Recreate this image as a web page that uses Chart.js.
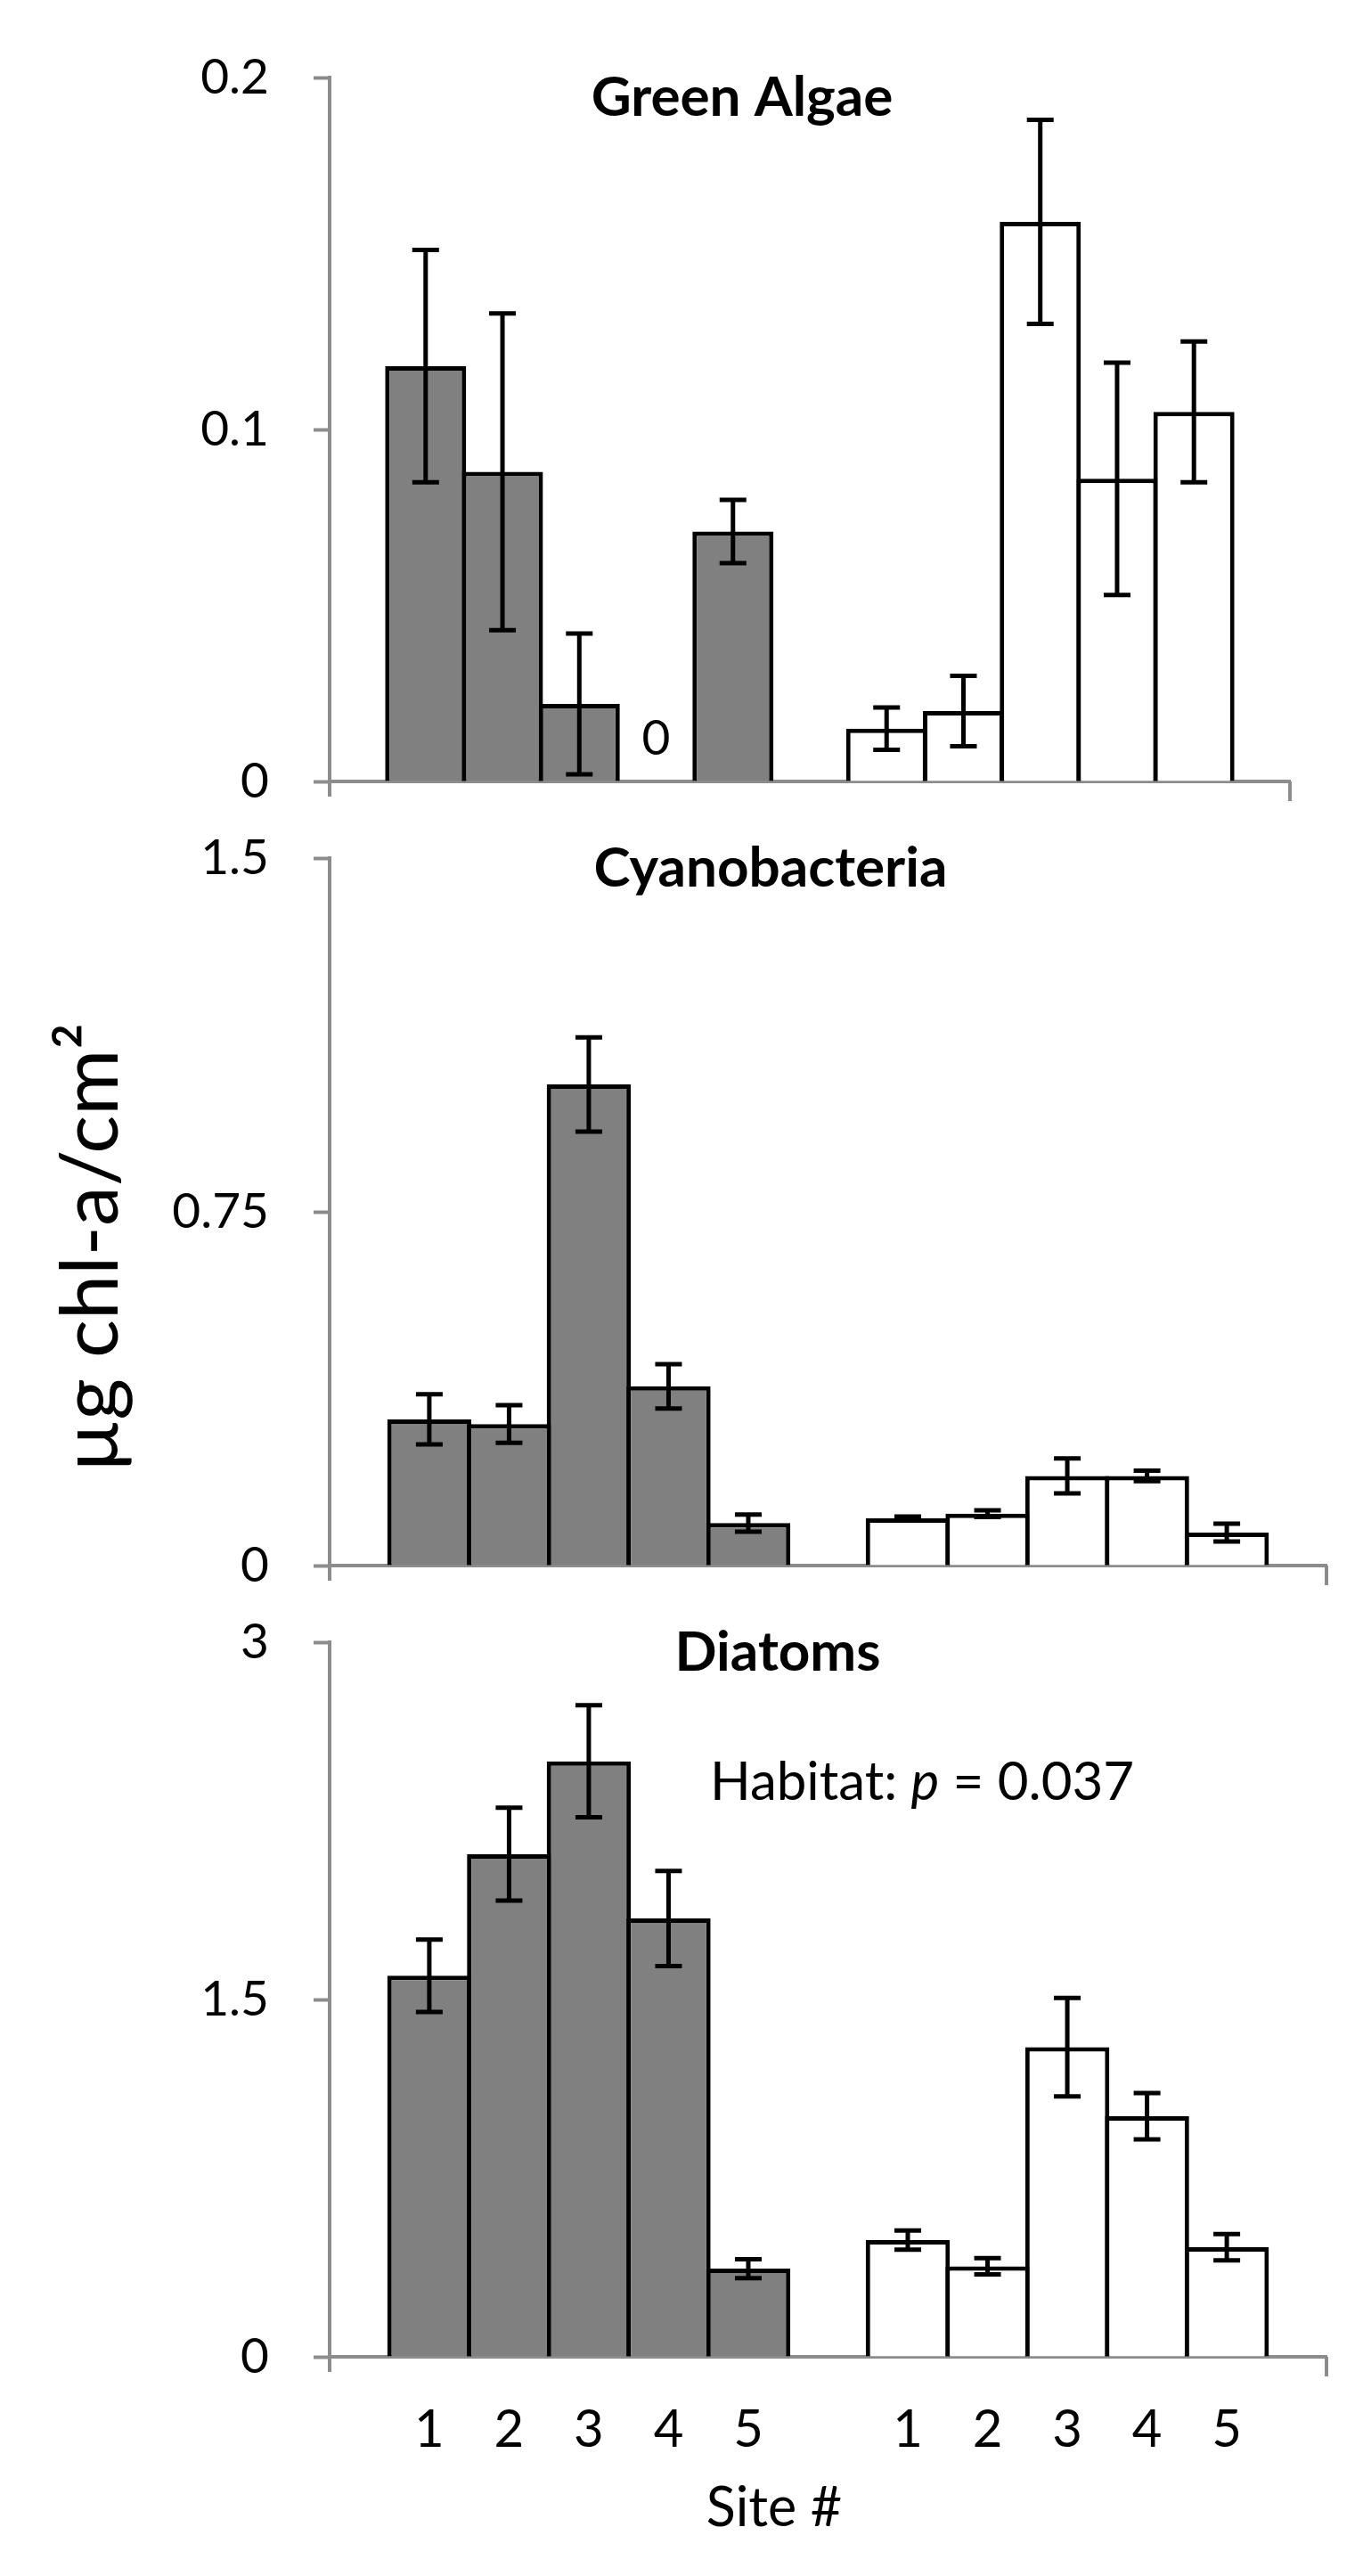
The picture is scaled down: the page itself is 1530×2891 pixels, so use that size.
<!DOCTYPE html>
<html>
<head>
<meta charset="utf-8">
<script src="https://cdn.jsdelivr.net/npm/chart.js@4.4.1/dist/chart.umd.min.js"></script>
<style>
  body { margin: 0; background: #fff; width: 1530px; height: 2891px; position: relative; overflow: hidden; }
  canvas { position: absolute; left: 0; }
</style>
</head>
<body>
<canvas id="green" width="1530" height="960" style="top:0px"></canvas>
<canvas id="cyano" width="1530" height="960" style="top:880px"></canvas>
<canvas id="diatom" width="1530" height="1131" style="top:1760px"></canvas>
<script>
// sites, per habitat (grey bars = habitat 1, white bars = habitat 2)
var siteLabels = ['1', '2', '3', '4', '5'];

var greenHab1 = [0.118, 0.088, 0.022, 0, 0.071];
var greenHab1Err = [0.033, 0.045, 0.020, 0, 0.009];
var greenHab2 = [0.015, 0.020, 0.159, 0.086, 0.105];
var greenHab2Err = [0.006, 0.010, 0.029, 0.033, 0.020];

var cyanoHab1 = [0.31, 0.30, 1.02, 0.38, 0.09];
var cyanoHab1Err = [0.053, 0.040, 0.10, 0.047, 0.018];
var cyanoHab2 = [0.10, 0.11, 0.19, 0.19, 0.07];
var cyanoHab2Err = [0.004, 0.007, 0.037, 0.011, 0.019];

var diatomHab1 = [1.60, 2.11, 2.50, 1.84, 0.37];
var diatomHab1Err = [0.152, 0.195, 0.235, 0.20, 0.04];
var diatomHab2 = [0.49, 0.38, 1.30, 1.01, 0.46];
var diatomHab2Err = [0.04, 0.034, 0.207, 0.097, 0.055];

var greenTicks = [0, 0.1, 0.2];
var greenTickLabels = ['0', '0.1', '0.2'];
var cyanoTicks = [0, 0.75, 1.5];
var cyanoTickLabels = ['0', '0.75', '1.5'];
var diatomTicks = [0, 1.5, 3];
var diatomTickLabels = ['0', '1.5', '3'];

var AXIS = '#8c8c8c';
var FONT = 'Lato';

// bar slots: habitat 1 at 0..4, one empty slot, habitat 2 at 6..10
function slots(vals, offset) {
  return vals.map(function (v, i) { return { x: i + offset, y: v }; });
}

var errorBars = {
  id: 'errorBars',
  afterDatasetsDraw: function (chart) {
    var ctx = chart.ctx, ys = chart.scales.y;
    chart.data.datasets.forEach(function (ds, di) {
      var meta = chart.getDatasetMeta(di);
      meta.data.forEach(function (bar, i) {
        var v = ds.data[i].y, e = ds.errors[i];
        ctx.save();
        if (v === 0) {
          ctx.fillStyle = '#000';
          ctx.font = '55px ' + FONT;
          ctx.textAlign = 'center';
          ctx.textBaseline = 'middle';
          ctx.fillText('0', bar.x, ys.getPixelForValue(0) - 48);
        }
        if (e) {
          var t = ys.getPixelForValue(v + e), b = ys.getPixelForValue(v - e);
          ctx.strokeStyle = '#000';
          ctx.lineWidth = 5;
          ctx.beginPath();
          ctx.moveTo(bar.x, t); ctx.lineTo(bar.x, b);
          ctx.moveTo(bar.x - 15, t); ctx.lineTo(bar.x + 15, t);
          ctx.moveTo(bar.x - 15, b); ctx.lineTo(bar.x + 15, b);
          ctx.stroke();
        }
        ctx.restore();
      });
    });
  }
};

function notes(cfg) {
  return {
    id: 'notes',
    afterDraw: function (chart) {
      var ctx = chart.ctx, a = chart.chartArea;
      ctx.save();
      // axis end marks below the category axis
      ctx.strokeStyle = AXIS;
      ctx.lineWidth = 4;
      ctx.beginPath();
      ctx.moveTo(a.left, a.bottom); ctx.lineTo(a.left, a.bottom + 17);
      ctx.moveTo(a.right, a.bottom); ctx.lineTo(a.right, a.bottom + 22);
      ctx.stroke();

      ctx.fillStyle = '#000';
      ctx.textBaseline = 'alphabetic';
      ctx.textAlign = 'center';
      ctx.font = 'bold 62px ' + FONT;
      ctx.fillText(cfg.title, cfg.titleX, cfg.titleY);

      if (cfg.yTitle) {
        ctx.save();
        ctx.translate(cfg.yTitle.x, cfg.yTitle.y);
        ctx.rotate(-Math.PI / 2);
        ctx.font = '90px ' + FONT;
        ctx.fillText(cfg.yTitle.text, 0, 0);
        ctx.restore();
      }
      if (cfg.stat) {
        ctx.textAlign = 'left';
        var x = cfg.stat.x;
        ctx.font = '60px ' + FONT;
        ctx.fillText('Habitat: ', x, cfg.stat.y);
        x += ctx.measureText('Habitat: ').width;
        ctx.font = 'italic 60px ' + FONT;
        ctx.fillText('p', x, cfg.stat.y);
        x += ctx.measureText('p').width;
        ctx.font = '60px ' + FONT;
        ctx.fillText(' = 0.037', x, cfg.stat.y);
      }
      if (cfg.xTitle) {
        ctx.textAlign = 'center';
        ctx.font = '61px ' + FONT;
        ctx.fillText(cfg.xTitle.text, cfg.xTitle.x, cfg.xTitle.y);
      }
      ctx.restore();
    }
  };
}

function makePanel(id, p) {
  var xTickVals = siteLabels.map(function (s, i) { return i; })
    .concat(siteLabels.map(function (s, i) { return i + 6; }));
  var xTickText = siteLabels.concat(siteLabels);
  return new Chart(document.getElementById(id), {
    type: 'bar',
    data: {
      datasets: [
        { label: 'Habitat 1', data: slots(p.hab1, 0), errors: p.hab1Err, backgroundColor: '#808080' },
        { label: 'Habitat 2', data: slots(p.hab2, 6), errors: p.hab2Err, backgroundColor: '#ffffff' }
      ]
    },
    options: {
      responsive: false,
      animation: false,
      devicePixelRatio: 1,
      layout: { padding: { top: p.top, right: p.right, left: 0, bottom: 0 } },
      datasets: {
        bar: {
          grouped: false,
          barPercentage: 1.055,
          categoryPercentage: 1,
          borderColor: '#000',
          borderWidth: 5,
          borderSkipped: 'start'
        }
      },
      plugins: { legend: { display: false }, tooltip: { enabled: false } },
      scales: {
        x: {
          type: 'linear',
          offset: false,
          min: -1.25,
          max: 11.25,
          z: 1,
          afterBuildTicks: function (s) { s.ticks = xTickVals.map(function (v) { return { value: v }; }); },
          ticks: {
            display: !!p.siteTicks,
            callback: function (v, i) { return xTickText[i]; },
            font: { family: FONT, size: 58 },
            color: '#000',
            padding: 47,
            autoSkip: false,
            maxRotation: 0
          },
          grid: { display: false, drawTicks: false, offset: false },
          border: { color: AXIS, width: 4 },
          afterFit: function (s) { s.height = p.xHeight; }
        },
        y: {
          min: 0,
          max: p.ticks[p.ticks.length - 1],
          afterBuildTicks: function (s) { s.ticks = p.ticks.map(function (v) { return { value: v }; }); },
          ticks: {
            callback: function (v, i) { return p.tickLabels[i]; },
            font: { family: FONT, size: 55 },
            color: '#000',
            padding: 50
          },
          grid: { drawOnChartArea: false, tickLength: 18, tickWidth: 4, tickColor: AXIS, color: AXIS },
          border: { color: AXIS, width: 4 },
          afterFit: function (s) { s.width = 370; }
        }
      }
    },
    plugins: [errorBars, notes(p.notes)]
  });
}

function drawAll() {
  makePanel('green', {
    hab1: greenHab1, hab1Err: greenHab1Err, hab2: greenHab2, hab2Err: greenHab2Err,
    ticks: greenTicks, tickLabels: greenTickLabels,
    top: 87, right: 82, xHeight: 64,
    notes: { title: 'Green Algae', titleX: 833, titleY: 130 }
  });
  makePanel('cyano', {
    hab1: cyanoHab1, hab1Err: cyanoHab1Err, hab2: cyanoHab2, hab2Err: cyanoHab2Err,
    ticks: cyanoTicks, tickLabels: cyanoTickLabels,
    top: 78, right: 41, xHeight: 76,
    notes: {
      title: 'Cyanobacteria', titleX: 865, titleY: 115,
      yTitle: { text: '\u00b5g chl-a/cm\u00b2', x: 132, y: 520 }
    }
  });
  makePanel('diatom', {
    hab1: diatomHab1, hab1Err: diatomHab1Err, hab2: diatomHab2, hab2Err: diatomHab2Err,
    ticks: diatomTicks, tickLabels: diatomTickLabels,
    top: 76, right: 41, xHeight: 246, siteTicks: true,
    notes: {
      title: 'Diatoms', titleX: 873, titleY: 115,
      stat: { x: 797, y: 260 },
      xTitle: { text: 'Site #', x: 869, y: 1075 }
    }
  });
}

if (document.fonts && document.fonts.load) {
  Promise.all([
    document.fonts.load('55px Lato'),
    document.fonts.load('bold 62px Lato'),
    document.fonts.load('italic 60px Lato')
  ]).then(drawAll, drawAll);
} else {
  drawAll();
}
</script>
</body>
</html>
